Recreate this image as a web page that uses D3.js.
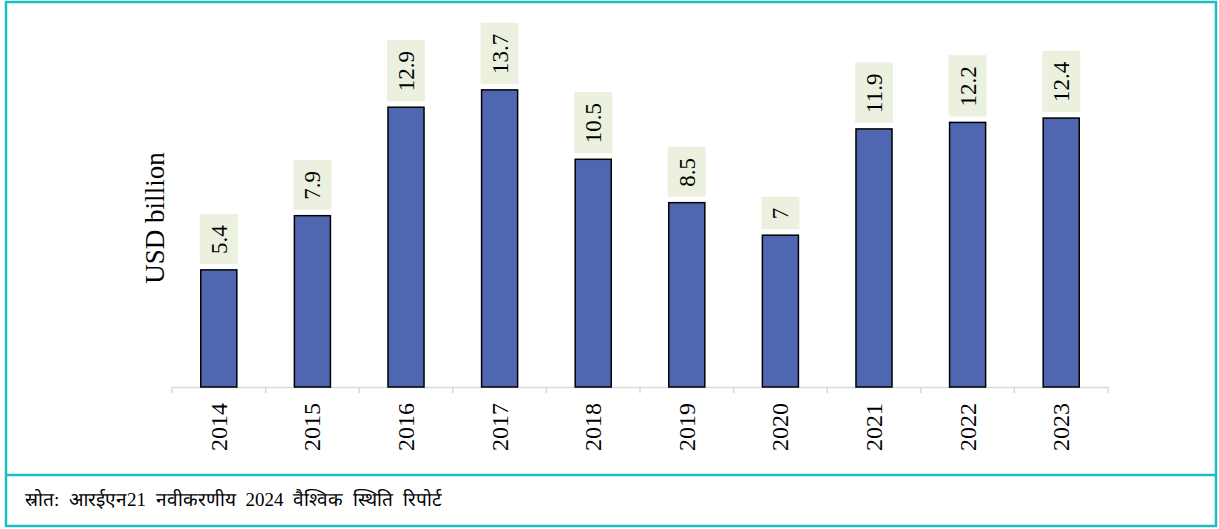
<!DOCTYPE html>
<html>
<head>
<meta charset="utf-8">
<script src="https://cdn.jsdelivr.net/npm/d3@7"></script>
<style>
  body { margin: 0; background: #fff; }
  svg { display: block; }
</style>
</head>
<body>
<div id="chart"></div>
<script>
const years = ["2014", "2015", "2016", "2017", "2018", "2019", "2020", "2021", "2022", "2023"];
const values = [5.4, 7.9, 12.9, 13.7, 10.5, 8.5, 7, 11.9, 12.2, 12.4];
const valueLabels = ["5.4", "7.9", "12.9", "13.7", "10.5", "8.5", "7", "11.9", "12.2", "12.4"];
const yTitle = "USD billion";
const source = "स्रोत: आरईएन21 नवीकरणीय 2024 वैश्विक स्थिति रिपोर्ट";

const width = 1219, height = 529;
const serif = "'Liberation Serif', 'Times New Roman', serif";
const teal = "#1CBEC4";

const svg = d3.select("#chart").append("svg")
  .attr("width", width)
  .attr("height", height);

// frame
svg.append("rect")
  .attr("x", 6).attr("y", 2)
  .attr("width", 1210).attr("height", 524)
  .attr("fill", "none")
  .attr("stroke", teal)
  .attr("stroke-width", 2.5);
svg.append("line")
  .attr("x1", 6).attr("x2", 1216)
  .attr("y1", 475).attr("y2", 475)
  .attr("stroke", teal)
  .attr("stroke-width", 2.5);

const margin = { left: 172, right: 1108, top: 40, bottom: 387 };

const x = d3.scaleBand()
  .domain(years)
  .range([margin.left, margin.right])
  .padding(0);

const y = d3.scaleLinear()
  .domain([0, 16])
  .range([margin.bottom, margin.top]);

const barW = x.bandwidth() * 0.385;

// axis
const axis = svg.append("g")
  .attr("transform", `translate(0,${margin.bottom})`)
  .call(d3.axisBottom(x).tickSize(0).tickFormat(""));
axis.select(".domain").attr("stroke", "#D9D9D9").attr("stroke-width", 1.5);

svg.append("g")
  .selectAll("line")
  .data(years.concat(["end"]))
  .join("line")
  .attr("x1", (d, i) => i < years.length ? x(d) : margin.right)
  .attr("x2", (d, i) => i < years.length ? x(d) : margin.right)
  .attr("y1", margin.bottom)
  .attr("y2", margin.bottom + 6)
  .attr("stroke", "#D9D9D9")
  .attr("stroke-width", 1.5);

// year labels
svg.append("g")
  .selectAll("text")
  .data(years)
  .join("text")
  .attr("transform", d => `translate(${x(d) + x.bandwidth() / 2 + 8},${margin.bottom + 16}) rotate(-90)`)
  .attr("text-anchor", "end")
  .attr("font-family", serif)
  .attr("font-size", 24)
  .attr("fill", "#000")
  .text(d => d);

// bars
svg.append("g")
  .selectAll("rect")
  .data(years)
  .join("rect")
  .attr("x", d => x(d) + (x.bandwidth() - barW) / 2)
  .attr("y", (d, i) => y(values[i]))
  .attr("width", barW)
  .attr("height", (d, i) => y(0) - y(values[i]))
  .attr("fill", "#4F67B0")
  .attr("stroke", "#000")
  .attr("stroke-width", 1.5);

// value labels
const lab = svg.append("g")
  .selectAll("g")
  .data(years)
  .join("g")
  .attr("transform", (d, i) => `translate(${x(d) + x.bandwidth() / 2},${y(values[i]) - 6})`);

lab.each(function (d, i) {
  const g = d3.select(this);
  const t = g.append("text")
    .attr("transform", "rotate(-90)")
    .attr("x", 10)
    .attr("y", 8)
    .attr("text-anchor", "start")
    .attr("font-family", serif)
    .attr("font-size", 23)
    .attr("fill", "#000")
    .text(valueLabels[i]);
  const len = t.node().getComputedTextLength();
  g.insert("rect", "text")
    .attr("x", -19)
    .attr("y", -(len + 21))
    .attr("width", 38)
    .attr("height", len + 21)
    .attr("fill", "#EBF1DE");
});

// y title
svg.append("text")
  .attr("transform", `translate(164,218) rotate(-90)`)
  .attr("text-anchor", "middle")
  .attr("font-family", serif)
  .attr("font-size", 27)
  .attr("fill", "#000")
  .text(yTitle);

// source
svg.append("text")
  .attr("x", 25)
  .attr("y", 506)
  .attr("font-family", serif)
  .attr("font-size", 19)
  .attr("word-spacing", 5)
  .attr("fill", "#000")
  .text(source);
</script>
</body>
</html>
